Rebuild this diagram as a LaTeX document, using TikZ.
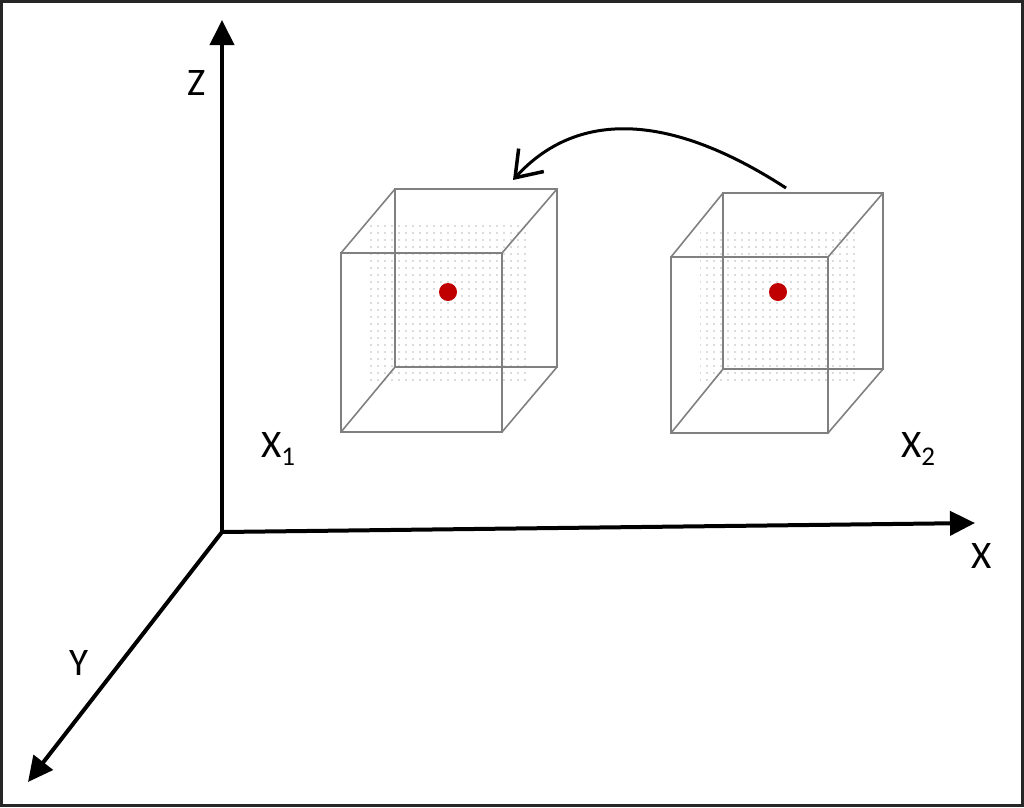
\documentclass[tikz,border=0pt]{standalone}
\usepackage{fontspec}
\setmainfont{Carlito}
\usepackage{tikz}
\usetikzlibrary{arrows.meta,patterns.meta,positioning,calc}

\tikzset{
  axis/.style={line width=4pt,-{Triangle[length=25pt,width=24pt]}},
  cubeline/.style={draw=black!50,line width=1.6pt},
  dotfill/.style={pattern={Dots[distance=7pt,radius=0.9pt]},pattern color=gray!55},
  lbl/.style={anchor=base west,inner sep=0pt,font=\fontsize{39}{41}\selectfont},
  reddot/.style={fill=dotred,draw=none}
}
\definecolor{dotred}{RGB}{192,0,0}
\newcommand{\subnum}[1]{\raisebox{-8pt}{\fontsize{27}{27}\selectfont #1}}

\begin{document}
\begin{tikzpicture}[x=1pt,y=-1pt]
\useasboundingbox (0,0) rectangle (1024,807);
\draw[line width=3pt,color=black!85] (1.5,1.5) rectangle (1022.5,805.5);

% axes
\coordinate (O) at (222,532);
\coordinate (zend) at (222,20);
\coordinate (xend) at (975,523);
\coordinate (yend) at (28,782);
\draw[axis] (O) -- (zend);
\draw[axis] (O) -- (xend);
\draw[axis] (O) -- (yend);
\node[lbl] (zlabel) at (187,95) {Z};
\node[lbl] (xlabel) at (971,568) {X};
\node[lbl] (ylabel) at (69,675) {Y};

% first cube
\fill[dotfill] (370,223) rectangle (530,382);
\draw[cubeline] (395,189) rectangle (557,367);
\draw[cubeline] (341,253) rectangle (502,432);
\draw[cubeline] (341,253) -- (395,189);
\draw[cubeline] (502,253) -- (557,189);
\draw[cubeline] (502,432) -- (557,367);
\draw[cubeline] (341,432) -- (395,367);
\fill[reddot] (448,292) circle (9);
\node[lbl] (xone) at (261,457) {X\subnum{1}};

% second cube
\fill[dotfill] (700,227) rectangle (857,383);
\draw[cubeline] (723,193) rectangle (883,369);
\draw[cubeline] (671,257) rectangle (828,433);
\draw[cubeline] (671,257) -- (723,193);
\draw[cubeline] (828,257) -- (883,193);
\draw[cubeline] (828,433) -- (883,369);
\draw[cubeline] (671,433) -- (723,369);
\fill[reddot] (778,292) circle (9);
\node[lbl] (xtwo) at (901,457) {X\subnum{2}};

% move from x2 to x1
\coordinate (from) at (786,188);
\coordinate (to) at (513,180);
\draw[line width=3pt,-{Straight Barb[length=24pt,width=34pt,line width=3.5pt]}]
  (from) .. controls (666,110) and (575,112) .. (to);
\end{tikzpicture}
\end{document}
